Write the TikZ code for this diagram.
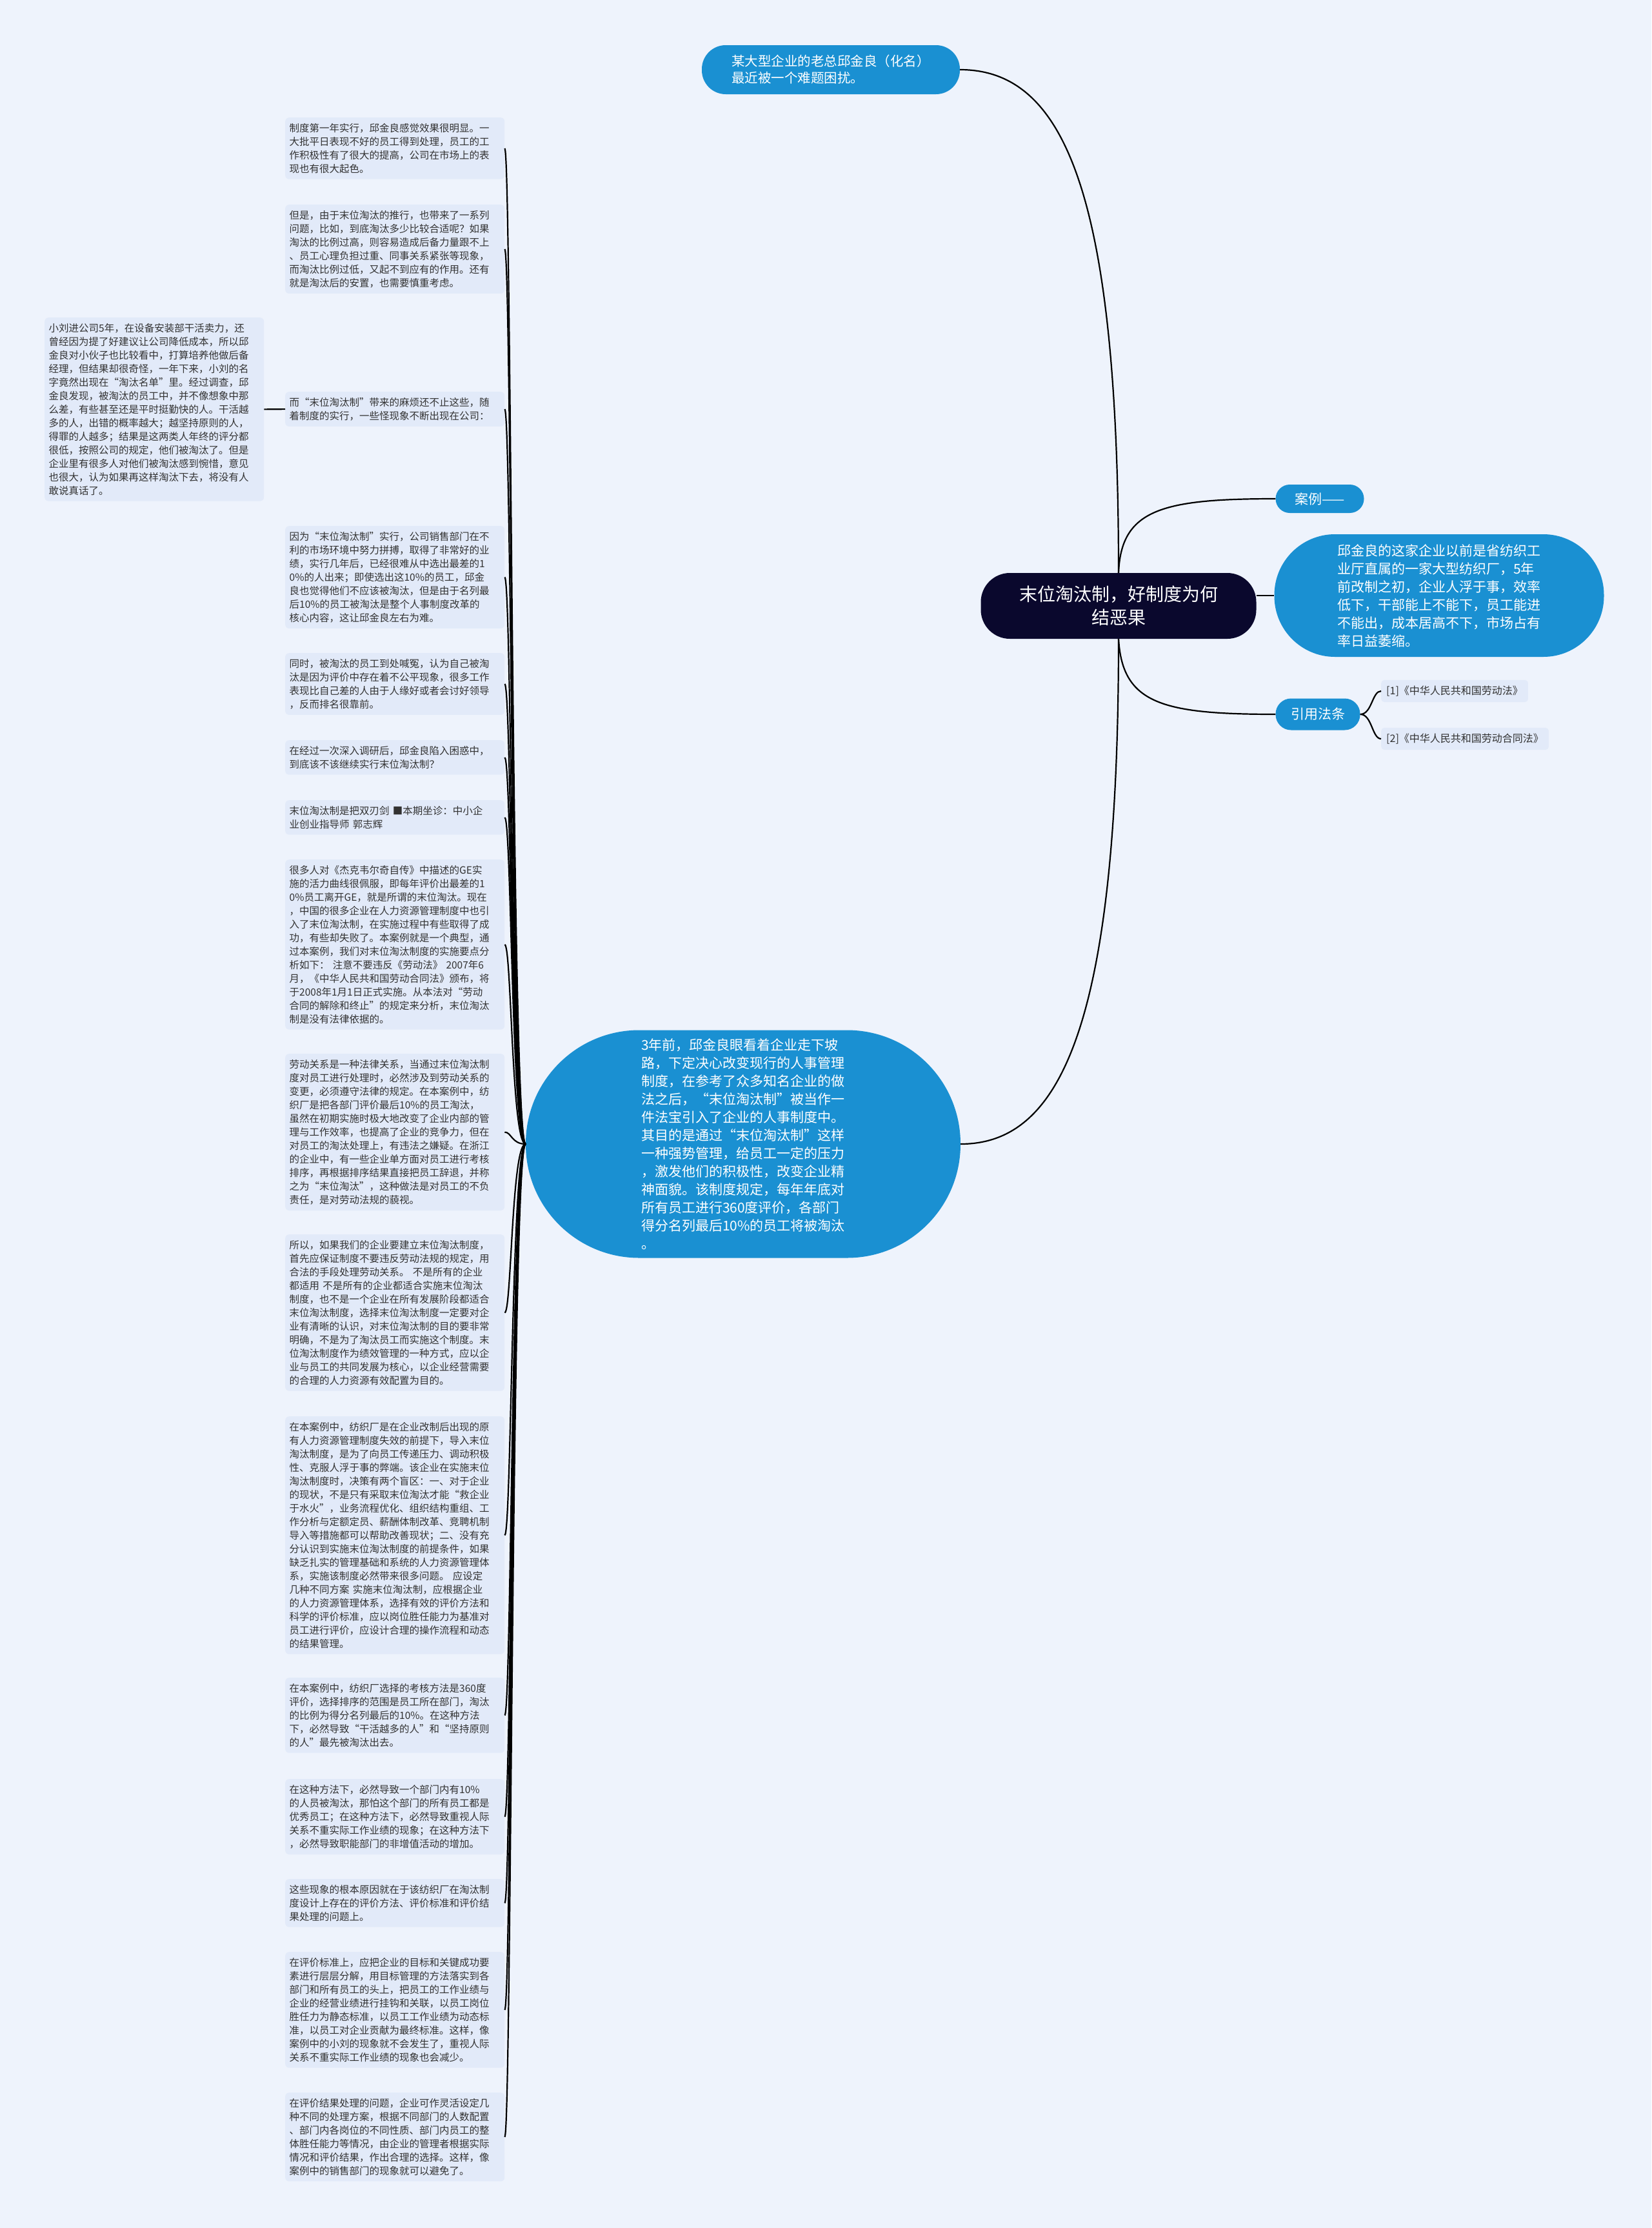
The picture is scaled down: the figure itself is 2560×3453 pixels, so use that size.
\documentclass[tikz,border=0pt]{standalone}
\usepackage{fontspec}
\setmainfont{Noto Sans CJK SC}
\usetikzlibrary{calc}
\definecolor{bgc}{RGB}{238,243,252}
\definecolor{lboxc}{RGB}{226,234,249}
\definecolor{bluec}{RGB}{26,144,210}
\definecolor{navyc}{RGB}{10,8,45}
\definecolor{txtc}{RGB}{50,50,50}
\tikzset{
 lbox/.style={fill=lboxc, rounded corners=6pt, text width=327pt, align=left, inner xsep=6.5pt, inner ysep=9pt, anchor=north west, text=txtc, font=\fontsize{15.5pt}{21pt}\selectfont},
 bluebox/.style={fill=bluec, text=white, font=\fontsize{21pt}{28pt}\selectfont},
 conn/.style={draw=black, line width=2.2pt},
 leaf/.style={fill=lboxc, rounded corners=5pt, text=txtc, anchor=west, inner xsep=8pt, inner ysep=9pt, font=\fontsize{16pt}{20pt}\selectfont},
}
\begin{document}
\begin{tikzpicture}[x=1pt,y=-1pt]
\useasboundingbox (0,0) rectangle (2560,3453);
\fill[bgc] (0,0) rectangle (2560,3453);

% right side
\node[fill=navyc, text=white, rounded corners=45pt, minimum width=427pt, minimum height=102pt, align=center, font=\fontsize{28pt}{36pt}\selectfont] (root) at (1734,939) {末位淘汰制，好制度为何\\结恶果};
\node[bluebox, rounded corners=37pt, minimum width=400pt, minimum height=76pt, text width=308pt, align=left, font=\fontsize{20.5pt}{26pt}\selectfont] (top) at (1288,108) {某大型企业的老总邱金良（化名）\\最近被一个难题困扰。};
\node[bluebox, rounded corners=22pt, minimum width=137pt, minimum height=44pt] (case) at (2046,773) {案例——};
\node[bluebox, rounded corners=94pt, minimum width=511pt, minimum height=190pt, text width=316pt, align=left] (desc) at (2231,923) {邱金良的这家企业以前是省纺织工\\业厅直属的一家大型纺织厂，5年\\前改制之初，企业人浮于事，效率\\低下，干部能上不能下，员工能进\\不能出，成本居高不下，市场占有\\率日益萎缩。};
\node[bluebox, rounded corners=24pt, minimum width=131pt, minimum height=49pt] (cite) at (2043,1107) {引用法条};
\node[leaf] (law1) at (2141,1071) {[1]《中华人民共和国劳动法》};
\node[leaf] (law2) at (2141,1145) {[2]《中华人民共和国劳动合同法》};

\node[bluebox, rounded corners=176pt, minimum width=674pt, minimum height=353pt, text width=316pt, align=left] (ctr) at (1152,1773) {3年前，邱金良眼看着企业走下坡\\路，下定决心改变现行的人事管理\\制度，在参考了众多知名企业的做\\法之后，“末位淘汰制”被当作一\\件法宝引入了企业的人事制度中。\\其目的是通过“末位淘汰制”这样\\一种强势管理，给员工一定的压力\\，激发他们的积极性，改变企业精\\神面貌。该制度规定，每年年底对\\所有员工进行360度评价，各部门\\得分名列最后10\%的员工将被淘汰\\。};

% left boxes
\node[lbox] (b1) at (442,182) {制度第一年实行，邱金良感觉效果很明显。一\\大批平日表现不好的员工得到处理，员工的工\\作积极性有了很大的提高，公司在市场上的表\\现也有很大起色。};
\node[lbox] (b2) at (442,317) {但是，由于末位淘汰的推行，也带来了一系列\\问题，比如，到底淘汰多少比较合适呢？如果\\淘汰的比例过高，则容易造成后备力量跟不上\\、员工心理负担过重、同事关系紧张等现象，\\而淘汰比例过低，又起不到应有的作用。还有\\就是淘汰后的安置，也需要慎重考虑。};
\node[lbox] (b3) at (442,607) {而“末位淘汰制”带来的麻烦还不止这些，随\\着制度的实行，一些怪现象不断出现在公司：};
\node[lbox] (xl) at (69,492) {小刘进公司5年，在设备安装部干活卖力，还\\曾经因为提了好建议让公司降低成本，所以邱\\金良对小伙子也比较看中，打算培养他做后备\\经理，但结果却很奇怪，一年下来，小刘的名\\字竟然出现在“淘汰名单”里。经过调查，邱\\金良发现，被淘汰的员工中，并不像想象中那\\么差，有些甚至还是平时挺勤快的人。干活越\\多的人，出错的概率越大；越坚持原则的人，\\得罪的人越多；结果是这两类人年终的评分都\\很低，按照公司的规定，他们被淘汰了。但是\\企业里有很多人对他们被淘汰感到惋惜，意见\\也很大，认为如果再这样淘汰下去，将没有人\\敢说真话了。};
\node[lbox] (b4) at (442,815) {因为“末位淘汰制”实行，公司销售部门在不\\利的市场环境中努力拼搏，取得了非常好的业\\绩，实行几年后，已经很难从中选出最差的1\\0\%的人出来；即使选出这10\%的员工，邱金\\良也觉得他们不应该被淘汰，但是由于名列最\\后10\%的员工被淘汰是整个人事制度改革的\\核心内容，这让邱金良左右为难。};
\node[lbox] (b5) at (442,1012) {同时，被淘汰的员工到处喊冤，认为自己被淘\\汰是因为评价中存在着不公平现象，很多工作\\表现比自己差的人由于人缘好或者会讨好领导\\，反而排名很靠前。};
\node[lbox] (b6) at (442,1147) {在经过一次深入调研后，邱金良陷入困惑中，\\到底该不该继续实行末位淘汰制？};
\node[lbox] (b7) at (442,1240) {末位淘汰制是把双刃剑 ■本期坐诊：中小企\\业创业指导师 郭志辉};
\node[lbox] (b8) at (442,1332) {很多人对《杰克韦尔奇自传》中描述的GE实\\施的活力曲线很佩服，即每年评价出最差的1\\0\%员工离开GE，就是所谓的末位淘汰。现在\\，中国的很多企业在人力资源管理制度中也引\\入了末位淘汰制，在实施过程中有些取得了成\\功，有些却失败了。本案例就是一个典型，通\\过本案例，我们对末位淘汰制度的实施要点分\\析如下： 注意不要违反《劳动法》 2007年6\\月，《中华人民共和国劳动合同法》颁布，将\\于2008年1月1日正式实施。从本法对“劳动\\合同的解除和终止”的规定来分析，末位淘汰\\制是没有法律依据的。};
\node[lbox] (b9) at (442,1633) {劳动关系是一种法律关系，当通过末位淘汰制\\度对员工进行处理时，必然涉及到劳动关系的\\变更，必须遵守法律的规定。在本案例中，纺\\织厂是把各部门评价最后10\%的员工淘汰，\\虽然在初期实施时极大地改变了企业内部的管\\理与工作效率，也提高了企业的竞争力，但在\\对员工的淘汰处理上，有违法之嫌疑。在浙江\\的企业中，有一些企业单方面对员工进行考核\\排序，再根据排序结果直接把员工辞退，并称\\之为“末位淘汰”，这种做法是对员工的不负\\责任，是对劳动法规的藐视。};
\node[lbox] (b10) at (442,1913) {所以，如果我们的企业要建立末位淘汰制度，\\首先应保证制度不要违反劳动法规的规定，用\\合法的手段处理劳动关系。 不是所有的企业\\都适用 不是所有的企业都适合实施末位淘汰\\制度，也不是一个企业在所有发展阶段都适合\\末位淘汰制度，选择末位淘汰制度一定要对企\\业有清晰的认识，对末位淘汰制的目的要非常\\明确，不是为了淘汰员工而实施这个制度。末\\位淘汰制度作为绩效管理的一种方式，应以企\\业与员工的共同发展为核心，以企业经营需要\\的合理的人力资源有效配置为目的。};
\node[lbox] (b11) at (442,2195) {在本案例中，纺织厂是在企业改制后出现的原\\有人力资源管理制度失效的前提下，导入末位\\淘汰制度，是为了向员工传递压力、调动积极\\性、克服人浮于事的弊端。该企业在实施末位\\淘汰制度时，决策有两个盲区：一、对于企业\\的现状，不是只有采取末位淘汰才能“救企业\\于水火”，业务流程优化、组织结构重组、工\\作分析与定额定员、薪酬体制改革、竞聘机制\\导入等措施都可以帮助改善现状；二、没有充\\分认识到实施末位淘汰制度的前提条件，如果\\缺乏扎实的管理基础和系统的人力资源管理体\\系，实施该制度必然带来很多问题。 应设定\\几种不同方案 实施末位淘汰制，应根据企业\\的人力资源管理体系，选择有效的评价方法和\\科学的评价标准，应以岗位胜任能力为基准对\\员工进行评价，应设计合理的操作流程和动态\\的结果管理。};
\node[lbox] (b12) at (442,2600) {在本案例中，纺织厂选择的考核方法是360度\\评价，选择排序的范围是员工所在部门，淘汰\\的比例为得分名列最后的10\%。在这种方法\\下，必然导致“干活越多的人”和“坚持原则\\的人”最先被淘汰出去。};
\node[lbox] (b13) at (442,2757) {在这种方法下，必然导致一个部门内有10\%\\的人员被淘汰，那怕这个部门的所有员工都是\\优秀员工；在这种方法下，必然导致重视人际\\关系不重实际工作业绩的现象；在这种方法下\\，必然导致职能部门的非增值活动的增加。};
\node[lbox] (b14) at (442,2912) {这些现象的根本原因就在于该纺织厂在淘汰制\\度设计上存在的评价方法、评价标准和评价结\\果处理的问题上。};
\node[lbox] (b15) at (442,3025) {在评价标准上，应把企业的目标和关键成功要\\素进行层层分解，用目标管理的方法落实到各\\部门和所有员工的头上，把员工的工作业绩与\\企业的经营业绩进行挂钩和关联，以员工岗位\\胜任力为静态标准，以员工工作业绩为动态标\\准，以员工对企业贡献为最终标准。这样，像\\案例中的小刘的现象就不会发生了，重视人际\\关系不重实际工作业绩的现象也会减少。};
\node[lbox] (b16) at (442,3243) {在评价结果处理的问题，企业可作灵活设定几\\种不同的处理方案，根据不同部门的人数配置\\、部门内各岗位的不同性质、部门内员工的整\\体胜任能力等情况，由企业的管理者根据实际\\情况和评价结果，作出合理的选择。这样，像\\案例中的销售部门的现象就可以避免了。};

% connectors
\draw[conn] (root.north) .. controls (1734,300) and (1650,108) .. (top.east);
\draw[conn] (root.north) .. controls (1738,790) and (1800,773) .. (case.west);
\draw[conn] (root.east |- desc.west) -- (desc.west);
\draw[conn] (root.south) .. controls (1740,1090) and (1800,1107) .. (cite.west);
\draw[conn] (root.south) .. controls (1734,1600) and (1640,1773) .. (ctr.east);
\coordinate (rb) at (2127,1107);
\draw[conn] (cite.east) .. controls (rb) and (rb |- law1.west) .. (law1.west);
\draw[conn] (cite.east) .. controls (rb) and (rb |- law2.west) .. (law2.west);
\coordinate (trunk) at (793,1773);
\foreach \n in {b1,b2,b3,b4,b5,b6,b7,b8,b9,b10,b11,b12,b13,b14,b15,b16}
  \draw[conn] (ctr.west) .. controls (trunk) and (trunk |- \n.east) .. (\n.east);
\draw[conn] (b3.west) -- (xl.east);
\end{tikzpicture}
\end{document}
